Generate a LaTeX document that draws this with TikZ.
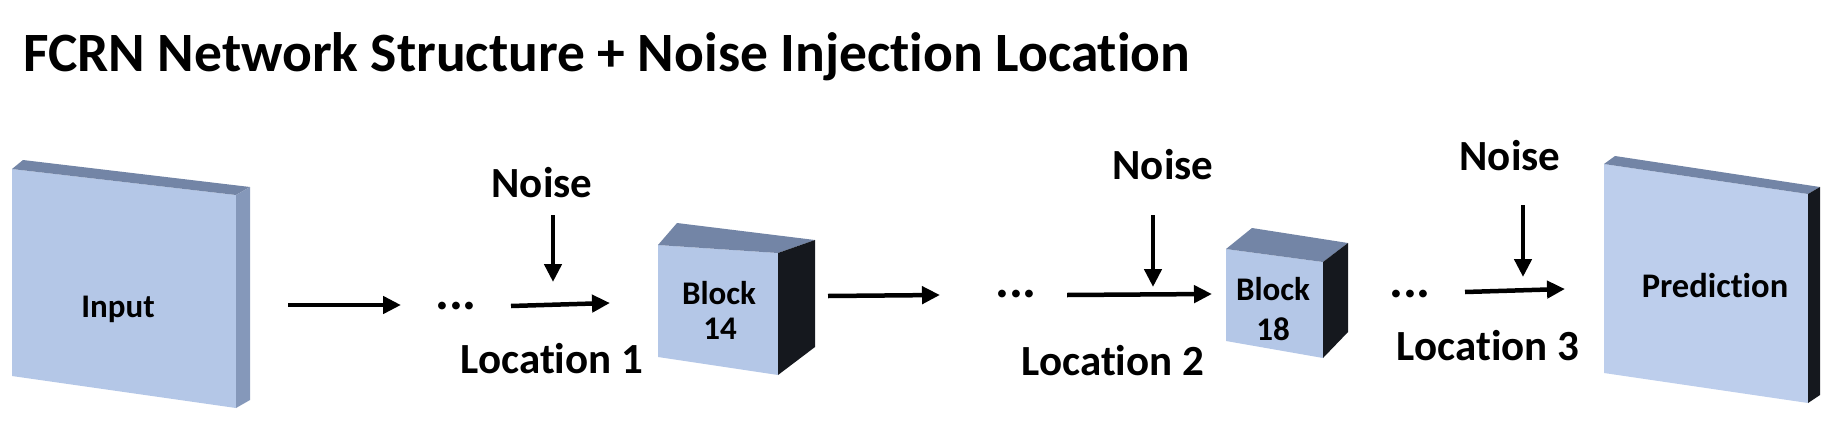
\documentclass[tikz,border=0pt]{standalone}
\usepackage{fontspec}
\setmainfont{Carlito}[Ligatures=NoCommon]
\usetikzlibrary{arrows.meta}
\definecolor{frontc}{HTML}{B4C7E7}
\definecolor{frontp}{HTML}{BDCEEC}
\definecolor{topc}{HTML}{7385A6}
\definecolor{sidein}{HTML}{8598BA}
\definecolor{sidedark}{HTML}{15181E}
\tikzset{
  lbl/.style={inner sep=0pt, anchor=base, font=\bfseries\fontsize{33}{36}\selectfont},
  noiselbl/.style={inner sep=0pt, anchor=base, font=\bfseries\fontsize{43}{46}\selectfont},
  loclbl/.style={inner sep=0pt, anchor=base, font=\bfseries\fontsize{43}{46}\selectfont},
  dotlbl/.style={inner sep=0pt, anchor=base, font=\bfseries\fontsize{52}{56}\selectfont},
  flow/.style={line width=4.5pt, -{Triangle[length=18pt,width=17pt]}},
}
\begin{document}
\begin{tikzpicture}[x=1pt,y=-1pt]
\useasboundingbox (0,0) rectangle (1838,442);
% title
\node[inner sep=0pt, anchor=base west, font=\bfseries\fontsize{55.5}{60}\selectfont] (title) at (23,71) {FCRN Network Structure + Noise Injection Location};
% input slab
\fill[frontc] (12,169) -- (236,195) -- (236,408) -- (12,376) -- cycle;
\fill[topc] (12,169) -- (23,160) -- (250,187) -- (236,195) -- cycle;
\fill[sidein] (236,195) -- (250,187) -- (250,400) -- (236,408) -- cycle;
\node[lbl] (input) at (118,317) {Input};
% block 14
\fill[frontc] (658,245) -- (778,253) -- (778,375) -- (658,357) -- cycle;
\fill[topc] (658,245) -- (677,223) -- (815,240) -- (778,253) -- cycle;
\fill[sidedark] (778,253) -- (815,240) -- (815,347) -- (778,375) -- cycle;
\node[lbl] (b14) at (719,304) {Block};
\node[lbl] (b14n) at (720,339) {14};
% block 18
\fill[frontc] (1226,249) -- (1323,262) -- (1323,358) -- (1226,341) -- cycle;
\fill[topc] (1226,249) -- (1252,228) -- (1348,243) -- (1323,262) -- cycle;
\fill[sidedark] (1323,262) -- (1348,243) -- (1348,332) -- (1323,358) -- cycle;
\node[lbl] (b18) at (1273,300) {Block};
\node[lbl] (b18n) at (1273,340) {18};
% prediction slab
\fill[frontp] (1604,164) -- (1808,194) -- (1808,403) -- (1604,373) -- cycle;
\fill[topc] (1604,164) -- (1615,156) -- (1820,187) -- (1808,194) -- cycle;
\fill[sidedark] (1808,194) -- (1820,187) -- (1820,395) -- (1808,403) -- cycle;
\node[lbl, font=\bfseries\fontsize{34.5}{38}\selectfont] (pred) at (1715,297) {Prediction};
% dots
\node[dotlbl] (d1) at (456,309) {...};
\node[dotlbl] (d2) at (1016,297) {...};
\node[dotlbl] (d3) at (1410,297) {...};
% noise labels
\node[noiselbl] (n1) at (542,197) {Noise};
\node[noiselbl] (n2) at (1163,179) {Noise};
\node[noiselbl] (n3) at (1510,170) {Noise};
% location labels
\node[loclbl] (l1) at (552,373) {Location 1};
\node[loclbl] (l2) at (1113,375) {Location 2};
\node[loclbl] (l3) at (1488,360) {Location 3};
% arrow coordinates
\coordinate (a1s) at (288,305); \coordinate (a1e) at (401,305);
\coordinate (a2s) at (511,306); \coordinate (a2e) at (610,303);
\coordinate (a3s) at (828,296); \coordinate (a3e) at (940,295);
\coordinate (a4s) at (1067,295); \coordinate (a4e) at (1212,294);
\coordinate (a5s) at (1465,292); \coordinate (a5e) at (1565,289);
\coordinate (n1s) at (553,215); \coordinate (n1e) at (553,282);
\coordinate (n2s) at (1153,215); \coordinate (n2e) at (1153,287);
\coordinate (n3s) at (1523,205); \coordinate (n3e) at (1523,277);
\draw[flow] (a1s) -- (a1e);
\draw[flow] (a2s) -- (a2e);
\draw[flow] (a3s) -- (a3e);
\draw[flow] (a4s) -- (a4e);
\draw[flow] (a5s) -- (a5e);
\draw[flow] (n1s) -- (n1e);
\draw[flow] (n2s) -- (n2e);
\draw[flow] (n3s) -- (n3e);
\end{tikzpicture}
\end{document}
